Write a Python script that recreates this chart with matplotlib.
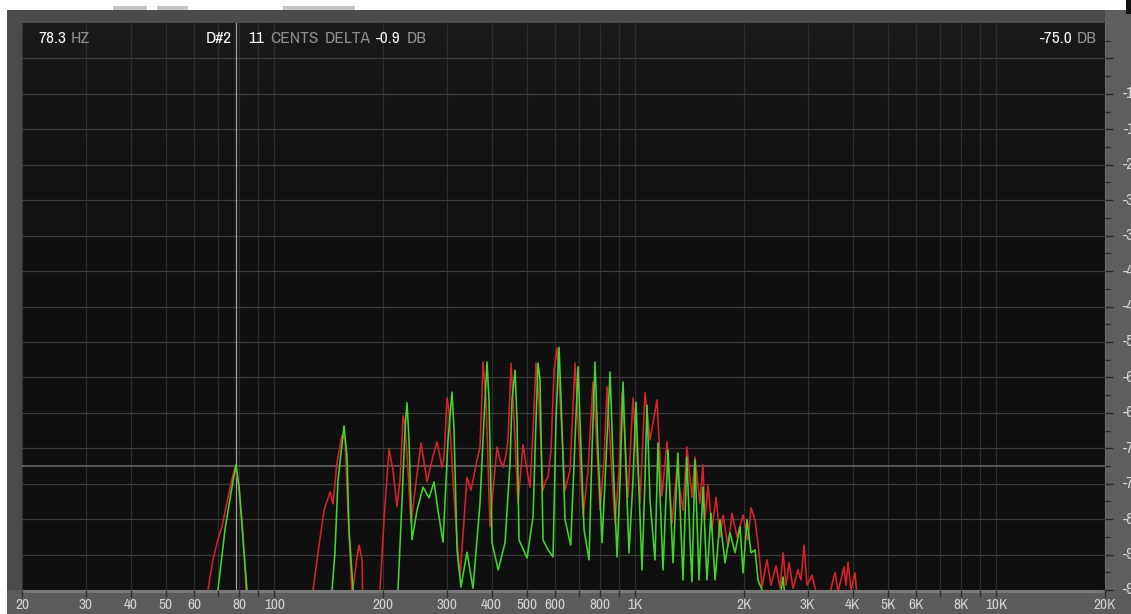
import numpy as np
import matplotlib
matplotlib.use("Agg")
import matplotlib.pyplot as plt
from matplotlib.patches import Rectangle
from matplotlib.ticker import NullFormatter
from matplotlib import transforms, font_manager

# Spectrum of a D#2 note, two channels (Hz, dB). -100 means below the floor.
red_freq = [64.5, 65.5, 67.6, 69.4, 71.6, 75.4, 77.8, 79.3, 81.4, 82.9, 84.0,
            127, 128, 132.1, 137.3, 142.7, 145.4, 149.1, 153.9, 157.0, 160.0, 164.2,
            169.5, 171.6, 175.0, 176.1,
            195, 196.2, 201.3, 207.8, 213.2, 218.7, 222.9, 227.3, 230.1, 234.6, 239.1,
            245.3, 255.0, 264.9, 273.4, 282.2, 291.4, 295.1, 300.9, 304.7, 312.6, 320.7,
            326.9, 341.8, 350.6, 364.3, 371.3, 375.0, 378.5, 385.9, 395.8, 403.5, 414.0,
            421.9, 430.1, 438.3, 444.0, 452.6, 461.3, 473.2, 488.6, 501.2, 510.9, 520.8,
            530.8, 541.0, 555.0, 565.7, 573.0, 584.1, 595.4, 606.9, 618.6, 638.7, 659.4,
            680.8, 698.4, 716.5, 739.7, 763.6, 778.3, 798.5, 819.1, 835.0, 856.5, 878.7,
            901.4, 918.8, 936.3, 954.4, 985.2, 1030.3, 1063.6, 1098.1, 1148.2, 1185,
            1223.9, 1263.6, 1303.3, 1355.6, 1389.3, 1435, 1463, 1510, 1539.5, 1559, 1590,
            1630, 1673, 1716, 1750, 1806, 1853, 1913, 1988, 2052, 2092, 2146, 2201, 2244,
            2316, 2376, 2453, 2517, 2566, 2615, 2666, 2734, 2822, 2877, 2933, 2989, 3086,
            3166, 3350, 3574, 3643, 3785, 3833, 3883, 3958, 4060, 4112, 4200]
red_db = [-100, -96, -90.9, -88.0, -85.3, -78.6, -75.2, -77.4, -84.1, -92.1, -100,
          -100, -96, -89.7, -82.5, -79.4, -81.4, -74.5, -69.8, -70.6, -83.0, -97,
          -90.4, -88.4, -90.9, -100,
          -100, -96, -84.1, -72.1, -75.7, -81.9, -77.4, -66.5, -68.1, -75.7, -84.7,
          -79.1, -71.1, -77.7, -74.0, -70.9, -75.2, -73.6, -63.5, -65.5, -77.4, -87.5,
          -93.8, -76.9, -79.1, -74.0, -71.8, -65.0, -57.4, -63.8, -85.3, -79.1, -71.8,
          -74.0, -75.2, -73.1, -70.6, -57.6, -67.2, -81.3, -71.4, -75.7, -78.6, -68.9,
          -57.6, -63.8, -79.1, -77.4, -76.9, -72.3, -58.8, -55.0, -63.8, -79.1, -75.7,
          -57.6, -70.6, -83.6, -75.7, -60.8, -68.9, -82.5, -74.0, -61.6, -74.0, -84.7,
          -75.7, -62.5, -70.6, -80.3, -63.5, -81.3, -62.6, -70.6, -63.8, -80.1,
          -70.9, -84.7, -75.7, -82.5, -71.8, -80.3, -73.5, -81.3, -74.8, -84.1, -78.2,
          -85.8, -80.3, -87.0, -83.3, -88.7, -83.0, -87.0, -83.3, -87.5, -82.1, -84.1, -89.7, -95.5,
          -90.9, -95.2, -91.9, -95.7, -89.7, -95.2, -91.4, -95.7, -92.6, -94.3, -88.4, -95.2, -93.5,
          -96.3, -100, -93.0, -96.3, -92.1, -95.2, -91.3, -96, -93.1, -97, -100]

green_freq = [69.5, 69.8, 73.0, 76.3, 78.3, 79.9, 81.9, 84.0, 84.5,
              144, 144.5, 147.2, 150.1, 156.0, 159.0, 161.0, 165.3, 166,
              219, 220.1, 225.8, 230.1, 233.1, 236.1, 240.6, 248.5, 258.2, 268.3, 276.9,
              284.0, 293.3, 302.8, 310.6, 314.6, 320.7, 328.8, 341.8, 355.1, 371.3, 380.9,
              388.3, 393.3, 400.9, 417, 435.6, 449.7, 455.4, 464.3, 470.2, 476.2, 501.2,
              520.8, 530.8, 537.6, 544.5, 555.0, 573.0, 591.6, 603.0, 614.7, 622.6, 638.7,
              662.1, 680.8, 694.0, 707.4, 721.0, 744.4, 758.7, 773.4, 788.2, 808.8, 829.6,
              851.1, 867.5, 890.0, 907.2, 924.7, 942.3, 960.5, 985.2, 1004.3, 1023.7,
              1043.5, 1063.6, 1077.2, 1098.1, 1133.7, 1155.6, 1178, 1193.1, 1231.7, 1256,
              1271.7, 1311.7, 1338, 1355.6, 1389.3, 1417.1, 1435, 1463, 1501, 1539.5, 1579,
              1620, 1663, 1716, 1772, 1829, 1889, 1950, 1988, 2039, 2092, 2146, 2187, 2244,
              2287, 2350, 2480, 2566, 2620]
green_db = [-100, -96, -85.8, -78.6, -74.8, -78.6, -87.5, -96, -100,
            -100, -96, -89.7, -77.4, -68.2, -73.5, -85.8, -96, -100,
            -100, -96, -80.8, -68.9, -64.3, -70.6, -87.5, -82.5, -78.6, -80.4, -77.7,
            -82.5, -87.9, -70.6, -62.5, -68.9, -89.2, -95.5, -89.6, -95.7, -81.3, -67.2,
            -57.4, -63.8, -88.0, -92.6, -88.0, -74.5, -63.8, -58.8, -67.2, -87.5, -90.6,
            -83.6, -67.2, -57.6, -60.4, -87.5, -89.2, -90.4, -67.2, -54.9, -63.8, -84.1,
            -88.4, -70.6, -58.2, -72.3, -85.8, -90.9, -72.3, -57.4, -72.3, -88.0, -74.0,
            -59.1, -74.0, -90.4, -77.4, -60.8, -75.7, -89.7, -77.4, -64.2, -79.1,
            -92.6, -77.4, -64.7, -80.8, -90.9, -71.1, -84.1, -92.6, -72.3, -84.1,
            -91.4, -72.8, -85.8, -94.3, -73.5, -87.5, -94.6, -74.0, -94.3, -78.6, -94.3,
            -83.0, -94.3, -84.1, -91.4, -86.3, -89.7, -85.3, -93.1, -84.1, -89.7, -89.2, -94.3, -96,
            -97, -100, -100, -93.8, -100]

x_tick_freqs = [20, 30, 40, 50, 60, 80, 100, 200, 300, 400, 500, 600, 800,
                1000, 2000, 3000, 4000, 5000, 6000, 8000, 10000, 20000]
x_tick_labels = ['20', '30', '40', '50', '60', '80', '100', '200', '300', '400', '500',
                 '600', '800', '1K', '2K', '3K', '4K', '5K', '6K', '8K', '10K', '20K']
x_minor_freqs = [70, 90, 700, 900, 7000, 9000]
db_ticks = [-6, -12, -18, -24, -30, -36, -42, -48, -54, -60, -66, -72, -78, -84, -90, -96]
db_tick_labels = ['-6', '-12', '-18', '-24', '-30', '-36', '-42', '-48', '-54', '-60',
                  '-66', '-72', '-78', '-84', '-90', '-96']
db_minor = [-3, -9, -15, -21, -27, -33, -39, -45, -51, -57, -63, -69, -75, -81, -87, -93]

cursor_freq = 78.3
cursor_db = -75.0
note_name = 'D#2'
cents = 11
delta_db = -0.9

W, H = 1131, 614

# a narrow face suits the analyser's labels; use one if installed
narrow = None
for f in font_manager.fontManager.ttflist:
    if 'Narrow' in f.name or 'Condensed' in f.name:
        narrow = dict(family=f.name)
        break
    if f.name == 'DejaVu Sans' and str(f.stretch) in ('condensed', '600', 'semi-condensed'):
        narrow = dict(family='DejaVu Sans', fontstretch='condensed')
if narrow is None:
    narrow = dict(family='DejaVu Sans')
    size_scale = 0.82
else:
    size_scale = 1.0


def fx(px):
    return px / W


def fy(py):
    return 1 - py / H


def frame_rect(x0, y0, x1, y1, color, z=-5):
    fig.add_artist(Rectangle((fx(x0), fy(y1)), fx(x1) - fx(x0), fy(y0) - fy(y1),
                             transform=fig.transFigure, facecolor=color,
                             edgecolor='none', zorder=z))


fig = plt.figure(figsize=(W / 100, H / 100), dpi=100)
fig.patch.set_facecolor('white')

# window frame around the analyser
frame_rect(7, 10, W, H, '#4b4b4b')
frame_rect(7, 590, W, H, '#5b5b5b')
frame_rect(1105, 10, W, 590, '#5e5e5e')
frame_rect(22, 590, 1105, 593, '#7a7a7a')
frame_rect(1103, 23, 1106, 593, '#6c6c6c')
for x0, x1 in [(113, 147), (157, 188), (283, 355)]:
    frame_rect(x0, 6, x1, 10, '#c4c4c4')
frame_rect(1126, 0, W, 14, '#111111')

pos = [fx(22), fy(590), fx(1105) - fx(22), fy(23) - fy(590)]

# plot background, slightly lighter near the top
bg = fig.add_axes(pos, zorder=0)
t = np.linspace(0, 1, 300)
shade = 0.062 + 0.045 * np.exp(-t * 6)
bg.imshow(np.repeat(shade[:, None, None], 3, axis=2), aspect='auto',
          extent=[0, 1, 0, 1], interpolation='bilinear')
bg.axis('off')

ax = fig.add_axes(pos, zorder=1)
ax.patch.set_alpha(0)
ax.set_xscale('log')
ax.set_xlim(20, 20000)
ax.set_ylim(-96, 0)

# grid
for f in x_tick_freqs + x_minor_freqs:
    ax.axvline(f, color='#2d2d2d', lw=0.9, zorder=1)
for d in db_ticks:
    ax.axhline(d, color='#3b3b3b', lw=0.9, zorder=1)

# cursor
ax.axhline(cursor_db, color='#6a6a6a', lw=1.1, zorder=2)
ax.axvline(cursor_freq, color='#a0a0a0', lw=0.9, zorder=2)

# spectrum traces
ax.plot(red_freq, red_db, color='#d8222b', lw=1.15, zorder=3)
ax.plot(green_freq, green_db, color='#42d62c', lw=1.15, zorder=4)

for s in ax.spines.values():
    s.set_visible(False)

# frequency axis
ax.set_xticks(x_tick_freqs, x_tick_labels)
ax.set_xticks(x_minor_freqs, minor=True)
ax.xaxis.set_minor_formatter(NullFormatter())
ax.tick_params(axis='x', which='both', direction='out', length=5, width=1,
               color='#2e2e2e', labelcolor='#d2d2d2', labelsize=11 * size_scale, pad=1)
for lab in ax.get_xticklabels():
    lab.set(**narrow)

# level axis on the right, labels cut off by the window edge
ax.yaxis.tick_right()
ax.set_yticks(db_ticks)
ax.set_yticks(db_minor, minor=True)
ax.set_yticklabels([])
ax.tick_params(axis='y', which='major', direction='out', length=6, width=1, color='#2a2a2a')
ax.tick_params(axis='y', which='minor', direction='out', length=3.5, width=1, color='#2a2a2a')
trans = transforms.blended_transform_factory(fig.transFigure, ax.transData)
for v, lab in zip(db_ticks, db_tick_labels):
    ax.text(fx(1142), v, lab, transform=trans, ha='right', va='center', clip_on=False,
            color='#d4d4d4', fontsize=11.5 * size_scale, **narrow)

# readout line at the top of the display
white = '#f4f4f4'
grey = '#8e8e8e'
hdr = dict(fontsize=12.5 * size_scale, fontweight='bold', va='baseline', **narrow)
renderer = fig.canvas.get_renderer()


def chain(x, parts, gap=5, align='left'):
    # place text pieces one after another, as the readout does
    texts = []
    for s, c in parts:
        texts.append(fig.text(0, fy(43), s, color=c, ha='left', **hdr))
    widths = [tx.get_window_extent(renderer).width for tx in texts]
    total = sum(widths) + gap * (len(texts) - 1)
    cur = x - total if align == 'right' else x
    for tx, w in zip(texts, widths):
        tx.set_x(fx(cur))
        cur += w + gap


chain(38, [(f'{cursor_freq:.1f}', white), ('HZ', grey)])
chain(232, [(note_name, white)], align='right')
chain(248, [(str(cents), white), ('CENTS', grey), ('DELTA', grey),
            (f'{delta_db:.1f}', white), ('DB', grey)], gap=6)
chain(1097, [(f'{cursor_db:.1f}', white), ('DB', grey)], align='right')

fig.savefig('out.png', dpi=100, facecolor=fig.get_facecolor())
